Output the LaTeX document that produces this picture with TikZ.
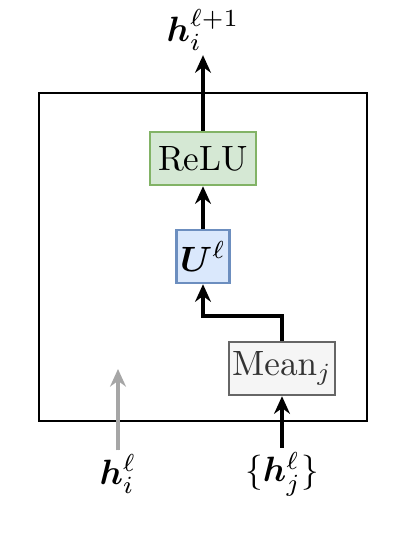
\documentclass[tikz,border=0pt]{standalone}
\usepackage{xcolor}
\usepackage{tikz}
\usepackage{amsmath}
\usepackage{bm}
\usetikzlibrary{arrows.meta, positioning}

\definecolor{reluFill}{HTML}{D5E8D4}
\definecolor{reluDraw}{HTML}{82B366}
\definecolor{linFill}{HTML}{DAE8FC}
\definecolor{linDraw}{HTML}{6C8EBF}
\definecolor{meanFill}{HTML}{F5F5F5}
\definecolor{meanDraw}{HTML}{666666}
\definecolor{meanText}{HTML}{333333}

\begin{document}
\begin{tikzpicture}[
    block/.style={rectangle, draw, line width=0.7pt, minimum height=0.53cm, inner sep=0pt},
    relu/.style={block, fill=reluFill, draw=reluDraw, minimum width=1.06cm},
    lin/.style={block, fill=linFill, draw=linDraw, minimum width=0.53cm},
    mean/.style={block, fill=meanFill, draw=meanDraw, text=meanText, minimum width=1.06cm},
    arrow/.style={-{Stealth[length=5pt, width=4.5pt]}, line width=0.9pt},
    label/.style={inner sep=1pt}
]

\useasboundingbox (0,0) rectangle (4.15,5.35);

\draw[line width=0.4pt] (0.39,1.14) rectangle (3.67,4.42);

\node[relu] (relu) at (2.03,3.765) {ReLU};
\node[lin] (lin) at (2.03,2.785) {$\bm{U}^{\ell}$};
\node[mean] (mean) at (2.82,1.665) {$\mathrm{Mean}_j$};

\node[label] (out) at (2.03,5.05) {$\bm{h}_i^{\ell+1}$};
\node[label] (hi) at (1.18,0.61) {$\bm{h}_i^{\ell}$};
\node[label] (hj) at (2.82,0.61) {$\{\bm{h}_j^{\ell}\}$};
\coordinate (hiend) at (1.18,1.66);

\draw[arrow, draw=black!35, fill=black!35] (hi) -- (hiend);
\draw[arrow] (hj) -- (mean);
\draw[arrow] (mean.north) |- (2.03,2.19) -- (lin.south);
\draw[arrow] (lin) -- (relu);
\draw[arrow] (relu) -- (out);

\end{tikzpicture}
\end{document}
